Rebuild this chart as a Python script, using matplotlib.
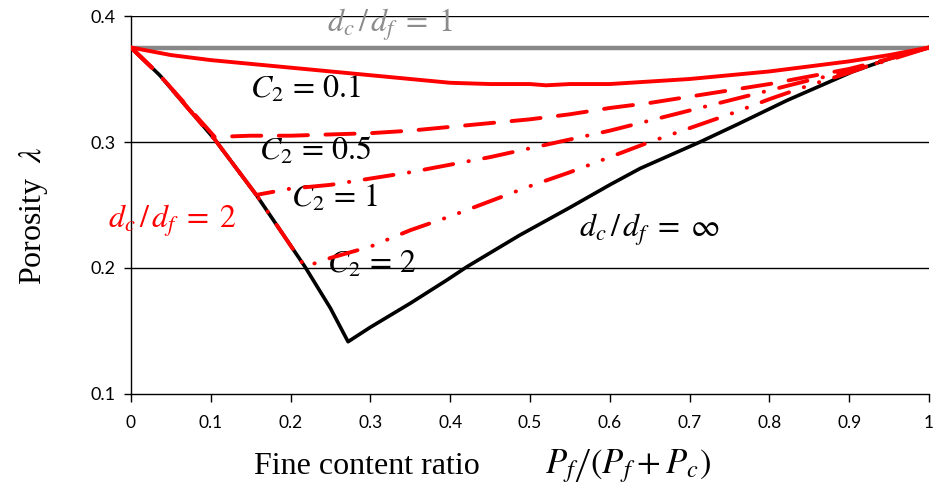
import matplotlib
matplotlib.use("Agg")
import matplotlib.pyplot as plt

plt.rcParams['mathtext.fontset'] = 'stix'

# ---- data ----
x_inf = [0, 0.036, 0.105, 0.157, 0.218, 0.25, 0.272, 0.3, 0.35, 0.396, 0.421, 0.487, 0.55, 0.6, 0.638, 0.713, 0.76, 0.822, 0.905, 0.95, 1.0]
y_inf = [0.375, 0.353, 0.302, 0.258, 0.201, 0.168, 0.1415, 0.153, 0.172, 0.1905, 0.201, 0.226, 0.248, 0.266, 0.279, 0.300, 0.314, 0.333, 0.356, 0.366, 0.375]

x_c01 = [0, 0.05, 0.1, 0.15, 0.2, 0.25, 0.3, 0.35, 0.4, 0.45, 0.5, 0.52, 0.55, 0.6, 0.65, 0.7, 0.75, 0.8, 0.85, 0.9, 0.95, 1.0]
y_c01 = [0.375, 0.369, 0.365, 0.362, 0.359, 0.356, 0.353, 0.350, 0.347, 0.346, 0.346, 0.345, 0.346, 0.346, 0.348, 0.350, 0.353, 0.356, 0.360, 0.364, 0.369, 0.375]

x_c05 = [0, 0.036, 0.105, 0.15, 0.2, 0.25, 0.3, 0.35, 0.4, 0.45, 0.5, 0.55, 0.6, 0.65, 0.7, 0.75, 0.8, 0.85, 0.9, 0.95, 1.0]
y_c05 = [0.375, 0.353, 0.304, 0.305, 0.305, 0.306, 0.307, 0.309, 0.312, 0.315, 0.318, 0.322, 0.327, 0.331, 0.336, 0.341, 0.346, 0.352, 0.358, 0.366, 0.375]

x_c1 = [0, 0.036, 0.105, 0.157, 0.2, 0.25, 0.3, 0.35, 0.4, 0.45, 0.5, 0.55, 0.6, 0.65, 0.7, 0.75, 0.8, 0.85, 0.9, 0.95, 1.0]
y_c1 = [0.375, 0.353, 0.302, 0.258, 0.263, 0.266, 0.271, 0.276, 0.282, 0.288, 0.295, 0.302, 0.309, 0.317, 0.325, 0.333, 0.341, 0.349, 0.356, 0.365, 0.375]

x_c2 = [0, 0.036, 0.105, 0.157, 0.218, 0.25, 0.3, 0.35, 0.4, 0.45, 0.5, 0.55, 0.6, 0.65, 0.7, 0.75, 0.8, 0.85, 0.9, 0.95, 1.0]
y_c2 = [0.375, 0.353, 0.302, 0.258, 0.201, 0.208, 0.217, 0.230, 0.241, 0.253, 0.265, 0.276, 0.288, 0.300, 0.311, 0.322, 0.334, 0.345, 0.355, 0.366, 0.375]

x_one = [0, 1]
y_one = [0.375, 0.375]

x_ticks = [0, 0.1, 0.2, 0.3, 0.4, 0.5, 0.6, 0.7, 0.8, 0.9, 1]
x_ticklabels = ['0', '0.1', '0.2', '0.3', '0.4', '0.5', '0.6', '0.7', '0.8', '0.9', '1']
y_ticks = [0.1, 0.2, 0.3, 0.4]
y_ticklabels = ['0.1', '0.2', '0.3', '0.4']

# ---- figure ----
fig = plt.figure(figsize=(9.4, 4.94), dpi=100)
ax = fig.add_axes([131/940, 1-394/494, (929-131)/940, (394-16)/494])

for yv in [0.2, 0.3, 0.4]:
    ax.axhline(yv, color='black', lw=1.0, zorder=1)

ax.plot(x_one, y_one, color='#888888', lw=3.2, solid_capstyle='butt', zorder=2)
ax.plot(x_inf, y_inf, color='black', lw=2.6, zorder=3)

red = '#FF0000'
lw = 2.8
ax.plot(x_c2, y_c2, color=red, lw=lw, linestyle=(0, (7.5, 4, 0.1, 4, 0.1, 4)), dash_capstyle='round', zorder=4)
ax.plot(x_c1, y_c1, color=red, lw=lw, linestyle=(0, (7.5, 4, 0.1, 4)), dash_capstyle='round', zorder=5)
ax.plot(x_c05, y_c05, color=red, lw=lw, linestyle=(0, (7.5, 4.5)), dash_capstyle='round', zorder=6)
ax.plot(x_c01, y_c01, color=red, lw=lw, zorder=7)

ax.set_xlim(0, 1)
ax.set_ylim(0.1, 0.4)
for s in ['top', 'right']:
    ax.spines[s].set_visible(False)
ax.spines['left'].set_linewidth(1.0)
ax.spines['bottom'].set_linewidth(1.0)

ax.set_xticks(x_ticks)
ax.set_xticklabels(x_ticklabels, family=['Lato', 'DejaVu Sans'], fontsize=12.5)
ax.set_yticks(y_ticks)
ax.set_yticklabels(y_ticklabels, family=['Lato', 'DejaVu Sans'], fontsize=13)
ax.tick_params(axis='x', direction='out', length=6, width=1, pad=9)
ax.tick_params(axis='y', direction='out', length=5, width=1, pad=6)

fs = 23
ax.text(0.245, 0.3875, r'$d_c\,/\,d_f\;=\;1$', color='#8c8c8c', fontsize=fs, ha='left', va='baseline', clip_on=False)
ax.text(0.149, 0.3347, r'$C_2\,=\,0.1$', color='black', fontsize=fs, ha='left', va='baseline')
ax.text(0.160, 0.2857, r'$C_2\,=\,0.5$', color='black', fontsize=fs, ha='left', va='baseline')
ax.text(0.200, 0.2487, r'$C_2\,=\,1$', color='black', fontsize=fs, ha='left', va='baseline')
ax.text(-0.029, 0.2323, r'$d_c\,/\,d_f\;=\;2$', color=red, fontsize=fs, ha='left', va='baseline', clip_on=False)
ax.text(0.246, 0.1958, r'$C_2\,=\,2$', color='black', fontsize=fs, ha='left', va='baseline')
ax.text(0.561, 0.2248, r'$d_c\,/\,d_f\;=\;\infty$', color='black', fontsize=fs, ha='left', va='baseline')

fig.text(480/940, 1-466/494, 'Fine content ratio',
         family='Liberation Serif', fontsize=23, ha='right', va='center')
fig.text(545/940, 1-466/494, r'$P_f\left/\left(P_f+P_c\right)\right.$',
         fontsize=25, ha='left', va='center')
fig.text(33/940, 1-216/494, r'Porosity  $\lambda$', family='Liberation Serif', fontsize=23,
         rotation=90, ha='center', va='center')

fig.savefig('out.png', dpi=100)
